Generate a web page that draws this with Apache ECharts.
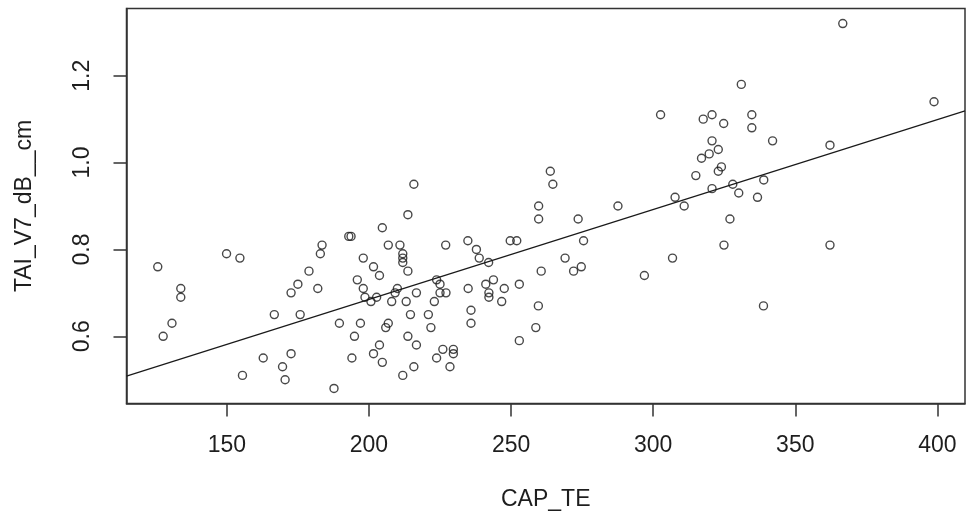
<!DOCTYPE html>
<html>
<head>
<meta charset="utf-8">
<script src="https://cdn.jsdelivr.net/npm/echarts@6/dist/echarts.min.js"></script>
<style>html,body{margin:0;padding:0;background:#fff}#c{width:970px;height:517px}</style>
</head>
<body>
<div id="c"></div>
<script>
var capTE = [125.7,133.8,133.8,130.7,127.6,149.9,154.6,155.5,162.8,166.7,169.6,170.5,172.6,172.6,175.0,175.8,178.9,182.0,182.9,183.5,187.7,189.6,192.9,193.7,194.0,194.9,195.9,197.0,198.0,198.0,198.6,
215.8,213.7,204.7,206.8,210.9,227.0,234.8,237.8,249.7,252.0,259.7,259.7,201.6,203.7,211.9,211.9,211.9,213.7,238.8,242.1,260.6,200.7,202.7,208.0,209.2,210.0,213.1,216.7,223.0,223.8,225.0,225.0,227.1,234.9,241.1,243.8,242.2,242.2,247.6,246.7,252.9,206.8,205.9,214.6,220.9,221.8,235.9,235.9,259.6,258.7,213.7,216.7,203.7,201.6,204.7,226.0,229.7,229.7,223.8,228.5,252.9,215.8,211.9,
263.8,264.7,273.6,275.5,269.0,274.7,272.0,287.6,296.9,306.8,302.6,307.7,310.9,315.0,317.0,317.6,319.7,320.7,320.7,320.7,322.9,322.9,324.0,324.8,324.9,327.0,328.0,330.1,331.0,334.7,334.7,336.7,338.9,338.8,342.0,362.2,362.2,366.7,398.8];
var taiV7 = [0.76,0.71,0.69,0.63,0.60,0.79,0.78,0.51,0.55,0.65,0.53,0.50,0.56,0.70,0.72,0.65,0.75,0.71,0.79,0.81,0.48,0.63,0.83,0.83,0.55,0.60,0.73,0.63,0.78,0.71,0.69,
0.95,0.88,0.85,0.81,0.81,0.81,0.82,0.80,0.82,0.82,0.90,0.87,0.76,0.74,0.79,0.78,0.77,0.75,0.78,0.77,0.75,0.68,0.69,0.68,0.70,0.71,0.68,0.70,0.68,0.73,0.72,0.70,0.70,0.71,0.72,0.73,0.70,0.69,0.71,0.68,0.72,0.63,0.62,0.65,0.65,0.62,0.66,0.63,0.67,0.62,0.60,0.58,0.58,0.56,0.54,0.57,0.57,0.56,0.55,0.53,0.59,0.53,0.51,
0.98,0.95,0.87,0.82,0.78,0.76,0.75,0.90,0.74,0.78,1.11,0.92,0.90,0.97,1.01,1.10,1.02,1.11,1.05,0.94,1.03,0.98,0.99,1.09,0.81,0.87,0.95,0.93,1.18,1.11,1.08,0.92,0.96,0.67,1.05,1.04,0.81,1.32,1.14];
var xTicks = [150, 200, 250, 300, 350, 400];
var yTicks = [0.6, 0.8, 1.0, 1.2];
var lmIntercept = 0.2709;
var lmSlope = 0.00207;
var xRange = [114.7, 409.7];
var yRange = [0.4453, 1.3547];

var points = capTE.map(function (x, i) { return [x, taiV7[i]]; });
var fitLine = xRange.map(function (x) { return [x, lmIntercept + lmSlope * x]; });

var font = "'Liberation Sans', Arial, Helvetica, sans-serif";
var ink = '#1e1e1e';
var axisColor = '#333';
var chart = echarts.init(document.getElementById('c'), null, {renderer: 'canvas'});
chart.setOption({
  animation: false,
  backgroundColor: '#ffffff',
  grid: {left: 126.5, right: 5, top: 8.5, bottom: 113.5, show: true, borderColor: axisColor, borderWidth: 1.5},
  xAxis: {
    type: 'value', min: xRange[0], max: xRange[1],
    axisLine: {show: true, onZero: false, lineStyle: {color: axisColor, width: 1.5}},
    splitLine: {show: false},
    axisTick: {show: true, length: 13, customValues: xTicks, lineStyle: {color: axisColor, width: 1.5}},
    axisLabel: {customValues: xTicks, margin: 31, fontSize: 23, color: ink, fontFamily: font},
    name: 'CAP_TE', nameLocation: 'middle', nameGap: 85,
    nameTextStyle: {fontSize: 23, color: ink, fontFamily: font}
  },
  yAxis: {
    type: 'value', min: yRange[0], max: yRange[1],
    axisLine: {show: true, onZero: false, lineStyle: {color: axisColor, width: 1.5}},
    splitLine: {show: false},
    axisTick: {show: true, length: 13, customValues: yTicks, lineStyle: {color: axisColor, width: 1.5}},
    axisLabel: {customValues: yTicks, rotate: 90, margin: 32, fontSize: 23, color: ink, fontFamily: font,
      formatter: function (v) { return Number(v).toFixed(1); }},
    name: 'TAI_V7_dB__cm', nameLocation: 'middle', nameGap: 90,
    nameTextStyle: {fontSize: 23, color: ink, fontFamily: font}
  },
  series: [
    {type: 'scatter', data: points, symbol: 'circle', symbolSize: 8,
     itemStyle: {color: 'rgba(0,0,0,0)', borderColor: '#1a1a1a', borderWidth: 1.4}, silent: true},
    {type: 'line', data: fitLine, symbol: 'none', lineStyle: {color: '#1a1a1a', width: 1.2}, silent: true}
  ]
});
</script>
</body>
</html>
